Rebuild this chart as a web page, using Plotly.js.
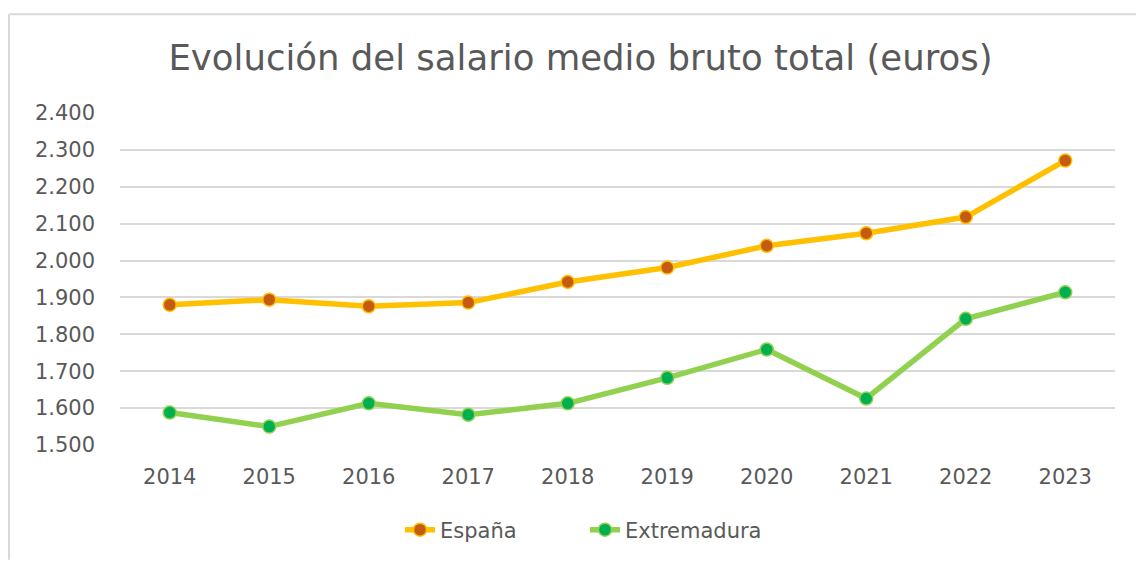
<!DOCTYPE html>
<html>
<head>
<meta charset="utf-8">
<script src="https://cdn.plot.ly/plotly-3.0.1.min.js"></script>
<style>html,body{margin:0;padding:0;background:#fff;}#chart{width:1136px;height:561px;}</style>
</head>
<body>
<div id="chart"></div>
<script>
const years = ['2014','2015','2016','2017','2018','2019','2020','2021','2022','2023'];
const espana = [1880, 1894, 1876, 1886, 1942, 1981, 2040, 2074, 2118, 2271];
const extremadura = [1588, 1550, 1613, 1582, 1613, 1682, 1759, 1626, 1842, 1914];
const yTickVals = [1500, 1600, 1700, 1800, 1900, 2000, 2100, 2200, 2300, 2400];
const yTickText = ['1.500','1.600','1.700','1.800','1.900','2.000','2.100','2.200','2.300','2.400'];

const FONT = 'DejaVu Sans, Liberation Sans, sans-serif';
const traces = [
  {x: years, y: espana, name: 'España', type: 'scatter', mode: 'lines+markers',
   line: {color: '#FFC000', width: 5.5},
   marker: {color: '#C55A11', size: 13, line: {color: '#FFC000', width: 1.5}}},
  {x: years, y: extremadura, name: 'Extremadura', type: 'scatter', mode: 'lines+markers',
   line: {color: '#92D050', width: 5.5},
   marker: {color: '#00B050', size: 13, line: {color: '#92D050', width: 1.5}}}
];
const L = 120, R = 1115, T = 113, B = 446, W = 1136, H = 561;
const layout = {
  width: W, height: H,
  margin: {l: L, r: W - R, t: T, b: H - B, pad: 0},
  paper_bgcolor: '#ffffff', plot_bgcolor: '#ffffff',
  font: {family: FONT, color: '#595959', size: 21},
  title: {text: 'Evolución del salario medio bruto total (euros)', font: {family: FONT, size: 35.5, color: '#595959'},
          x: 0.511, xanchor: 'center', xref: 'container', y: 1 - 58/H, yanchor: 'middle', yref: 'container'},
  xaxis: {type: 'category', range: [-0.5, 9.5], showgrid: false, zeroline: false, showline: false,
          ticks: '', ticklabelstandoff: 17, tickfont: {family: FONT, size: 21, color: '#595959'}},
  yaxis: {range: [1500, 2400], tickvals: yTickVals, ticktext: yTickText, showgrid: true,
          gridcolor: '#d9d9d9', gridwidth: 2, zeroline: false, showline: false, ticks: '',
          ticklabelstandoff: 24, tickfont: {family: FONT, size: 21, color: '#595959'}},
  showlegend: true,
  legend: {orientation: 'h', x: (400 - L) / (R - L), xanchor: 'left', y: (B - 530) / (B - T), yanchor: 'middle',
           font: {family: FONT, size: 21, color: '#595959'}, entrywidth: 140, tracegroupgap: 0},
  shapes: [
    {type: 'line', xref: 'paper', yref: 'paper', x0: (9 - L)/(R - L), x1: (W - L)/(R - L),
     y0: (B - 14)/(B - T), y1: (B - 14)/(B - T), line: {color: '#d9d9d9', width: 2}},
    {type: 'line', xref: 'paper', yref: 'paper', x0: (9 - L)/(R - L), x1: (9 - L)/(R - L),
     y0: (B - 14)/(B - T), y1: (B - H)/(B - T), line: {color: '#d9d9d9', width: 2}}
  ]
};
Plotly.newPlot('chart', traces, layout, {displayModeBar: false, staticPlot: true});
</script>
</body>
</html>
